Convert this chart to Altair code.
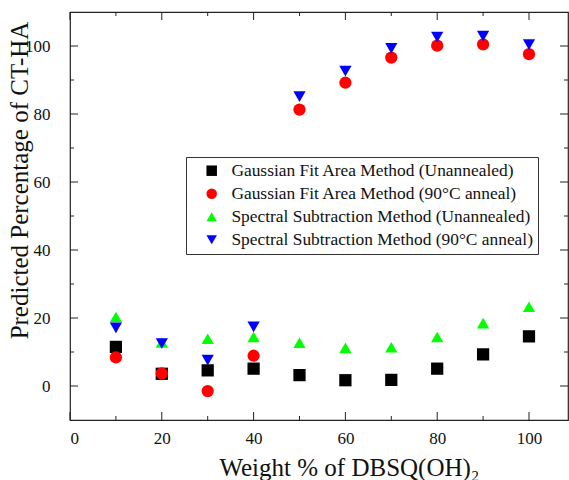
import altair as alt
import pandas as pd

# Weight % of DBSQ(OH)2 in the blend
weight_pct = [10, 20, 30, 40, 50, 60, 70, 80, 90, 100]

# Predicted percentage of CT-HA for each method / treatment
gauss_unannealed = [11.5, 3.6, 4.6, 5.1, 3.2, 1.7, 1.8, 5.1, 9.3, 14.6]
gauss_annealed = [8.4, 3.7, -1.5, 8.9, 81.3, 89.2, 96.6, 100.1, 100.5, 97.6]
spectral_unannealed = [20.3, 12.8, 13.9, 14.4, 12.7, 11.2, 11.4, 14.4, 18.5, 23.3]
spectral_annealed = [17.1, 12.5, 7.6, 17.4, 85.1, 92.6, 99.3, 102.6, 102.9, 100.4]

series_names = [
    "Gaussian Fit Area Method (Unannealed)",
    "Gaussian Fit Area Method (90°C anneal)",
    "Spectral Subtraction Method (Unannealed)",
    "Spectral Subtraction Method (90°C anneal)",
]
series_colors = ["#000000", "#ff0000", "#00ff00", "#0000ff"]
series_shapes = ["square", "circle", "triangle-up", "triangle-down"]

# Axis tick positions
x_major = [0, 20, 40, 60, 80, 100]
x_minor = [10, 30, 50, 70, 90]
y_major = [0, 20, 40, 60, 80, 100]
y_minor = [10, 30, 50, 70, 90]

W, H = 498, 408
FONT = "Liberation Serif"

rows = []
for name, vals in zip(series_names, [gauss_unannealed, gauss_annealed,
                                     spectral_unannealed, spectral_annealed]):
    for x, y in zip(weight_pct, vals):
        rows.append({"x": x, "y": y, "series": name})
df = pd.DataFrame(rows)

xs = alt.Scale(domain=[0, 108.5], nice=False, zero=False)
ys = alt.Scale(domain=[-10, 110], nice=False, zero=False)

x_axis = alt.Axis(values=x_major, grid=False, ticks=False, domain=False,
                  labelFont=FONT, labelFontSize=17, labelColor="#111111",
                  labelPadding=10, titleFont=FONT, titleFontSize=25,
                  titleFontWeight="normal", titleColor="#111111",
                  titleX=279, titleY=55, titleBaseline="alphabetic")
y_axis = alt.Axis(values=y_major, grid=False, ticks=False, domain=False,
                  labelFont=FONT, labelFontSize=17, labelColor="#111111",
                  labelPadding=20, titleFont=FONT, titleFontSize=25,
                  titleFontWeight="normal", titleColor="#111111",
                  titleX=-43, titleY=168, titleBaseline="alphabetic")
X_TITLE = "Weight % of DBSQ(OH)₂"
Y_TITLE = "Predicted Percentage of CT-HA"

legend = alt.Legend(
    title=None,
    orient="none",
    legendX=116,
    legendY=145,
    strokeColor="#333333",
    fillColor="white",
    padding=5,
    symbolOffset=12,
    symbolSize=110,
    symbolStrokeWidth=0,
    labelFont=FONT,
    labelFontSize=17.4,
    labelColor="#111111",
    labelOffset=11,
    rowPadding=4,
    labelLimit=400,
)

points = alt.Chart(df).mark_point(filled=True, size=150, opacity=1).encode(
    x=alt.X("x:Q", scale=xs, title=X_TITLE, axis=x_axis),
    y=alt.Y("y:Q", scale=ys, title=Y_TITLE, axis=y_axis),
    color=alt.Color("series:N", scale=alt.Scale(domain=series_names, range=series_colors),
                    legend=legend),
    shape=alt.Shape("series:N", scale=alt.Scale(domain=series_names, range=series_shapes),
                    legend=legend),
)


def x_ticks(vals, length, top):
    d = pd.DataFrame({"v": vals})
    y0 = 0 if top else H
    y1 = length if top else H - length
    return alt.Chart(d).mark_rule(color="#222222", strokeWidth=1).encode(
        x=alt.X("v:Q", scale=xs, title=X_TITLE, axis=x_axis),
        y=alt.value(y0), y2=alt.value(y1))


def y_ticks(vals, length, right):
    d = pd.DataFrame({"v": vals})
    x0 = W if right else 0
    x1 = W - length if right else length
    return alt.Chart(d).mark_rule(color="#222222", strokeWidth=1).encode(
        y=alt.Y("v:Q", scale=ys, title=Y_TITLE, axis=y_axis),
        x=alt.value(x0), x2=alt.value(x1))


ticks = [
    x_ticks(x_major, 8, False), x_ticks(x_minor, 4, False),
    x_ticks(x_major, 8, True), x_ticks(x_minor, 4, True),
    y_ticks(y_major, 8, False), y_ticks(y_minor, 4, False),
    y_ticks(y_major, 8, True), y_ticks(y_minor, 4, True),
]

chart = alt.layer(points, *ticks).properties(
    width=W, height=H,
    autosize=alt.AutoSizeParams(type="none"),
    padding={"left": 70, "top": 12, "right": 1, "bottom": 60},
    background="white",
).configure_view(stroke="#222222", strokeWidth=1.2)

chart.save("out.html", embed_options={"renderer": "svg", "actions": False})
